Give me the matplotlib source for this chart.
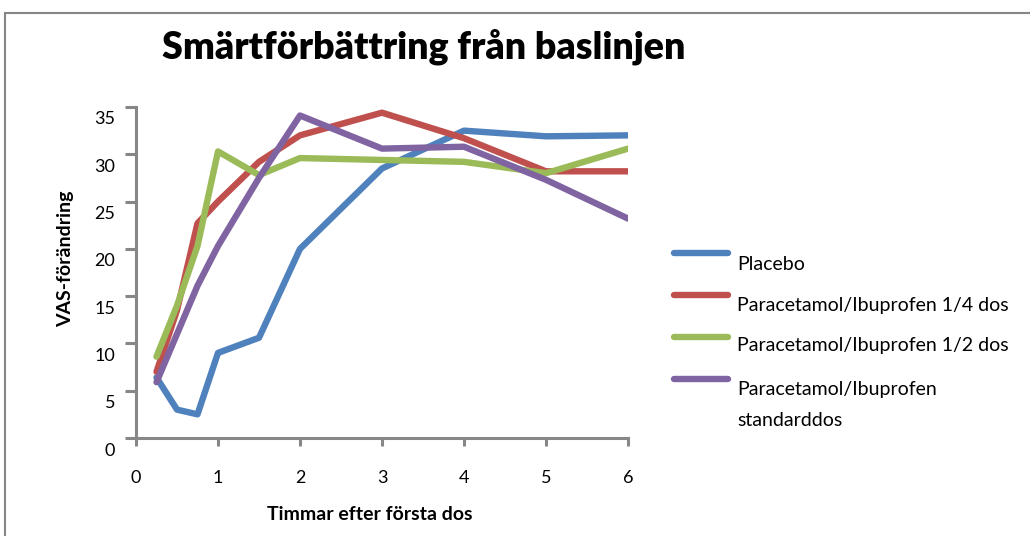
import matplotlib
matplotlib.use("Agg")
import matplotlib.pyplot as plt
import matplotlib.transforms as mtransforms
from matplotlib.lines import Line2D
from matplotlib.patches import Rectangle

# data
hours = [0.25, 0.5, 0.75, 1, 1.5, 2, 3, 4, 5, 6]
placebo = [6.4, 3.0, 2.5, 9.0, 10.6, 20.0, 28.5, 32.5, 31.9, 32.0]
quarter_dose = [7.0, 13.5, 22.7, 25.0, 29.2, 32.0, 34.4, 31.7, 28.2, 28.2]
half_dose = [8.6, 14.0, 20.3, 30.3, 27.8, 29.6, 29.4, 29.2, 28.0, 30.6]
standard_dose = [5.9, 11.0, 16.1, 20.3, 27.5, 34.1, 30.6, 30.8, 27.3, 23.2]

series = [placebo, quarter_dose, half_dose, standard_dose]
labels = ["Placebo", "Paracetamol/Ibuprofen 1/4 dos",
          "Paracetamol/Ibuprofen 1/2 dos", "Paracetamol/Ibuprofen\nstandarddos"]
colors = ["#4F81BD", "#C0504D", "#9BBB59", "#8064A2"]

W, H = 1030, 536
plt.rcParams["font.family"] = ["Lato", "DejaVu Sans"]
fig = plt.figure(figsize=(W / 100, H / 100), dpi=100)

# outer chart border
fig.add_artist(Rectangle((5 / W, -0.1), 1.2, 1 - 13 / H + 0.1, transform=fig.transFigure,
                         fill=False, edgecolor="#868686", linewidth=1.5))

ax = fig.add_axes([136 / W, 1 - 438 / H, (628 - 136) / W, (438 - 107) / H])
for s, c in zip(series, colors):
    ax.plot(hours, s, color=c, linewidth=4.6, solid_capstyle="round", solid_joinstyle="round")

ax.set_xlim(0, 6)
ax.set_ylim(0, 35)
ax.set_xticks(range(0, 7))
ax.set_yticks(range(0, 36, 5))
for side in ["top", "right"]:
    ax.spines[side].set_visible(False)
for side in ["left", "bottom"]:
    ax.spines[side].set_color("#878787")
    ax.spines[side].set_linewidth(2.2)
ax.tick_params(axis="y", length=8, width=2.2, color="#878787", pad=7, labelsize=13)
ax.tick_params(axis="x", length=6, width=2.2, color="#878787", pad=17, labelsize=13)
shift = mtransforms.ScaledTranslation(0, -11 / 100, fig.dpi_scale_trans)
for lbl in ax.get_yticklabels():
    lbl.set_transform(lbl.get_transform() + shift)

fig.text(424 / W, 1 - 47 / H, "Smärtförbättring från baslinjen", ha="center", va="center",
         fontsize=27, fontweight="heavy")
fig.text(370 / W, 1 - 515 / H, "Timmar efter första dos", ha="center", va="center",
         fontsize=14, fontweight="bold")
fig.text(66 / W, 1 - 259 / H, "VAS-förändring", ha="center", va="center", rotation=90,
         fontsize=14, fontweight="bold")

# legend
handle_y = [253, 295, 337, 379]
text_y = [265, 306, 346, 405]
for lab, c, hy, ty in zip(labels, colors, handle_y, text_y):
    fig.add_artist(Line2D([674 / W, 728 / W], [1 - hy / H, 1 - hy / H], transform=fig.transFigure,
                          color=c, linewidth=4.6, solid_capstyle="round"))
    fig.text(737 / W, 1 - ty / H, lab, ha="left", va="center", fontsize=14, linespacing=2.05)

fig.savefig("out.png", dpi=100)
